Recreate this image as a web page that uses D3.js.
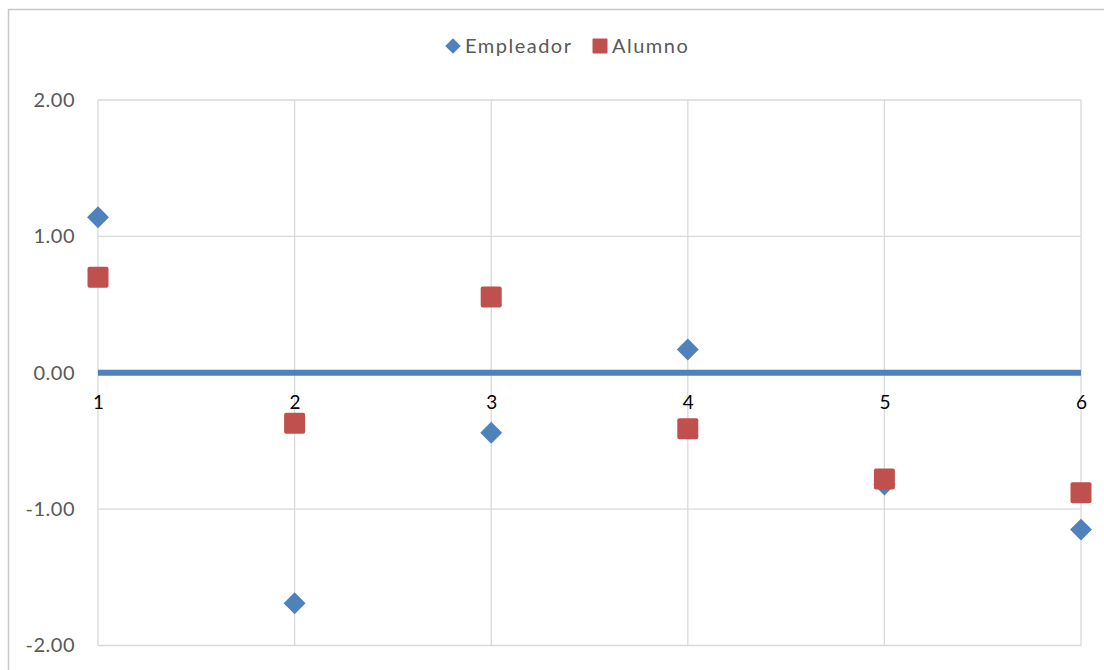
<!DOCTYPE html>
<html>
<head>
<meta charset="utf-8">
<script src="https://cdn.jsdelivr.net/npm/d3@7"></script>
<style>
  html, body { margin: 0; padding: 0; background: #fff; }
  svg { display: block; font-family: Lato, "Open Sans", sans-serif; }
</style>
</head>
<body>
<svg id="chart" width="1104" height="670"></svg>
<script>
// Question index on the x axis
const categories = [1, 2, 3, 4, 5, 6];
// Standardised scores per respondent group
const empleador = [1.14, -1.69, -0.44, 0.17, -0.82, -1.15];
const alumno = [0.70, -0.37, 0.555, -0.41, -0.78, -0.88];
const yTicks = [2, 1, 0, -1, -2];
const seriesNames = ["Empleador", "Alumno"];
const seriesColors = ["#4F81BD", "#C0504D"];

const svg = d3.select("#chart");
const W = 1104, H = 670;

// Chart frame (left and top edges)
svg.append("path")
  .attr("d", `M8.5,${H} V9.5 H${W}`)
  .attr("fill", "none").attr("stroke", "#c8c8c8").attr("stroke-width", 1.5);

const plot = { left: 98, right: 1081, top: 100, bottom: 645.5 };
const x = d3.scaleLinear().domain([1, 6]).range([plot.left, plot.right]);
const y = d3.scaleLinear().domain([-2, 2]).range([plot.bottom, plot.top]);

// Plain hyphen for negatives, two decimals
const fmtY = v => (v < 0 ? "-" : "") + Math.abs(v).toFixed(2);

// Gridlines
const grid = svg.append("g");
grid.selectAll("line.h").data(yTicks).join("line")
  .attr("x1", plot.left).attr("x2", plot.right)
  .attr("y1", d => y(d)).attr("y2", d => y(d))
  .attr("stroke", "#d9d9d9").attr("stroke-width", 1.3);
grid.selectAll("line.v").data(categories).join("line")
  .attr("y1", plot.top).attr("y2", plot.bottom)
  .attr("x1", d => x(d)).attr("x2", d => x(d))
  .attr("stroke", "#d9d9d9").attr("stroke-width", 1.3);

// Y axis labels
const yAxis = d3.axisLeft(y).tickValues(yTicks).tickFormat(fmtY).tickSize(0).tickPadding(23);
const gy = svg.append("g").attr("transform", `translate(${plot.left},0)`).call(yAxis);
gy.select(".domain").remove();
gy.selectAll("text").attr("fill", "#595959").style("font-size", "20px")
  .style("letter-spacing", "0.5px")
  .style("font-family", "Lato, 'Open Sans', sans-serif");

// Zero axis line
svg.append("line")
  .attr("x1", plot.left).attr("x2", plot.right)
  .attr("y1", y(0)).attr("y2", y(0))
  .attr("stroke", "#4F81BD").attr("stroke-width", 6);

// X axis labels sitting below the zero line
const xAxis = d3.axisBottom(x).tickValues(categories).tickFormat(d3.format("d")).tickSize(0).tickPadding(23);
const gx = svg.append("g").attr("transform", `translate(0,${y(0)})`).call(xAxis);
gx.select(".domain").remove();
gx.selectAll("text").attr("fill", "#000").style("font-size", "19px")
  .style("font-family", "Lato, 'Open Sans', sans-serif");

// Markers
const diamond = d3.symbol().type(d3.symbolSquare).size(240);
const marks = svg.append("g");
marks.selectAll("path.emp").data(categories).join("path")
  .attr("d", diamond)
  .attr("transform", (d, i) => `translate(${x(d)},${y(empleador[i])}) rotate(45)`)
  .attr("fill", seriesColors[0]);
marks.selectAll("rect.alu").data(categories).join("rect")
  .attr("x", d => x(d) - 10.5)
  .attr("y", (d, i) => y(alumno[i]) - 10.5)
  .attr("width", 21).attr("height", 21).attr("rx", 2)
  .attr("fill", seriesColors[1]);

// Legend
const legend = svg.append("g").attr("transform", "translate(0,46)");
const legendX = [453, 600];
seriesNames.forEach((name, i) => {
  const g = legend.append("g").attr("transform", `translate(${legendX[i]},0)`);
  if (i === 0) {
    g.append("path").attr("d", d3.symbol().type(d3.symbolSquare).size(120))
      .attr("transform", "rotate(45)").attr("fill", seriesColors[i]);
  } else {
    g.append("rect").attr("x", -7.5).attr("y", -7.5).attr("width", 15).attr("height", 15)
      .attr("rx", 1).attr("fill", seriesColors[i]);
  }
  g.append("text").attr("x", 12).attr("dy", "0.35em")
    .attr("fill", "#595959").style("font-size", "20px").style("letter-spacing", "1.5px")
    .text(name);
});
</script>
</body>
</html>
